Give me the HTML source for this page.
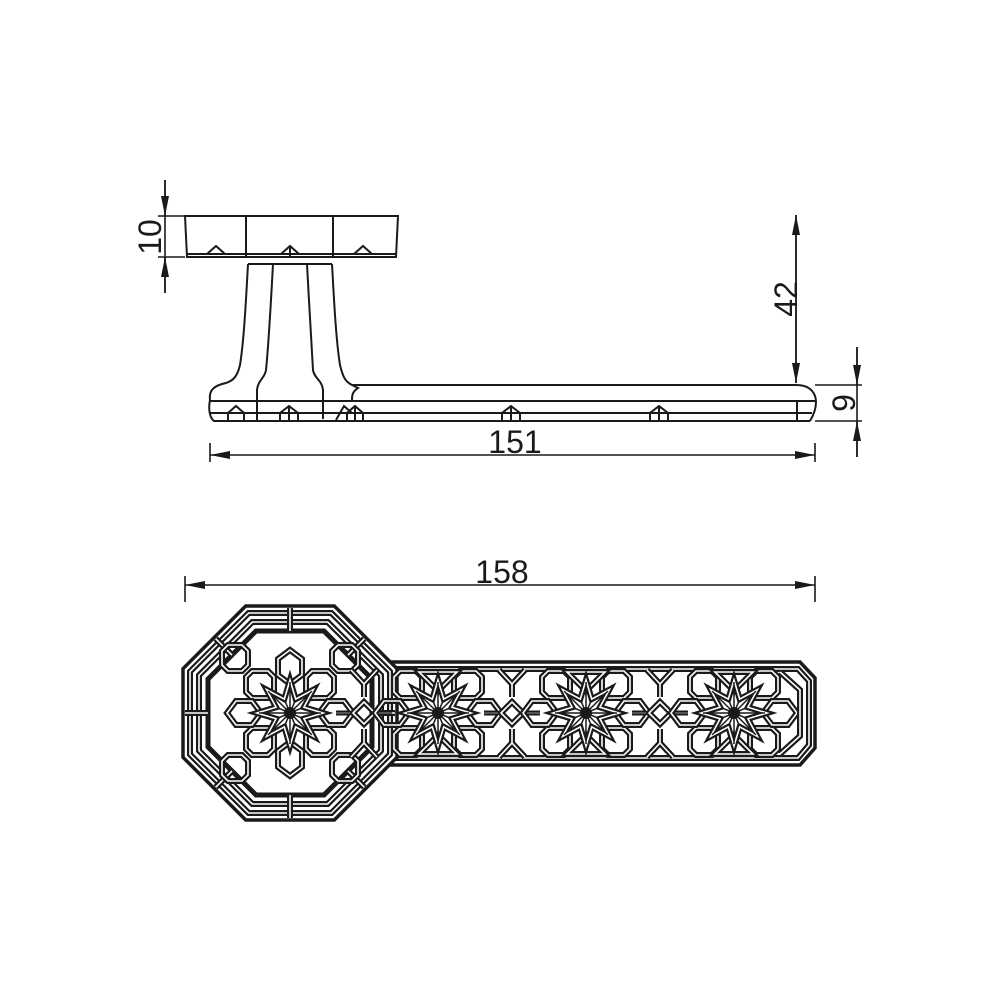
<!DOCTYPE html>
<html><head><meta charset="utf-8"><style>
html,body{margin:0;padding:0;background:#fff}
svg{display:block}
text{font-family:"Liberation Sans",Arial,sans-serif;font-size:32px;fill:#1a1a1a}
</style></head><body>
<svg id="s" width="1000" height="1000" viewBox="0 0 1000 1000" xmlns="http://www.w3.org/2000/svg">
<defs>
<marker id="a" viewBox="0 0 20 8" refX="20" refY="4" markerWidth="20" markerHeight="8" markerUnits="userSpaceOnUse" orient="auto"><path d="M0,0L20,4L0,8z" fill="#1a1a1a"/></marker>
</defs>
<g stroke="#1a1a1a" stroke-width="2" fill="none">
<path d="M185,216H398L396,257H187Z"/>
<path d="M246,216V257M333,216V257M187,254H396"/>
<path d="M207,254L216,246L225,254M281,254L290,246L299,254M354,254L363,246L372,254M290,246V257"/>
<path d="M248,264H332"/>
<path d="M248,264C246,300 244,340 240,365C237,378 232,382 222,384C212,387 209,392 210,400"/>
<path d="M273,264C271,300 269,340 266,370C265,378 258,380 257,390V421"/>
<path d="M307,264C309,300 311,340 313,370C314,378 322,380 323,390V419"/>
<path d="M332,264C334,300 336,340 340,365C343,378 346,382 352,385L358,388C352,392 352,396 352,400"/>
<path d="M352,385H796C812,385 816,395 816,402C816,410 813,416 810,421"/>
<path d="M210,400C208,410 210,418 214,421H810M210,401H815M210,413H812M797,401V421"/>
<path d="M228,420V413L236,406L244,413V420M280,420V413L289,406L298,413V420M289,406V421M336,420L344,406L352,413M347,420V413L355,406L363,413V420M355,406V421M502,420V413L511,406L520,413V420M511,406V421M650,420V413L659,406L668,413V420M659,406V421"/>
</g>
<g stroke="#1a1a1a" stroke-width="1.6" fill="none">
<path d="M165,180V293M158,216H185M158,257H185" />
<path d="M210,443V462M815,443V462M796,215V383M815,385H862M815,421H862M857,347V457M185,576V602M815,576V602"/>
</g>
<g stroke="#1a1a1a" stroke-width="1.6">
<line x1="165" y1="180" x2="165" y2="216" marker-end="url(#a)"/>
<line x1="165" y1="293" x2="165" y2="257" marker-end="url(#a)"/>
<line x1="515" y1="455" x2="210" y2="455" marker-end="url(#a)"/>
<line x1="515" y1="455" x2="815" y2="455" marker-end="url(#a)"/>
<line x1="796" y1="300" x2="796" y2="215" marker-end="url(#a)"/>
<line x1="796" y1="300" x2="796" y2="383" marker-end="url(#a)"/>
<line x1="857" y1="347" x2="857" y2="385" marker-end="url(#a)"/>
<line x1="857" y1="457" x2="857" y2="421" marker-end="url(#a)"/>
<line x1="500" y1="585" x2="185" y2="585" marker-end="url(#a)"/>
<line x1="500" y1="585" x2="815" y2="585" marker-end="url(#a)"/>
</g>
<text x="515" y="453" text-anchor="middle">151</text>
<text x="502" y="583" text-anchor="middle">158</text>
<text transform="translate(161,237) rotate(-90)" text-anchor="middle">10</text>
<text transform="translate(797,299) rotate(-90)" text-anchor="middle">42</text>
<text transform="translate(855,403) rotate(-90)" text-anchor="middle">9</text>
<g id="pat"></g>
</svg>
<script>
var g=document.getElementById('pat'),out='';
function dbl(d,w){w=w||7;out+='<path d="'+d+'" fill="none" stroke="#1a1a1a" stroke-width="'+w+'" stroke-linejoin="miter"/><path d="'+d+'" fill="none" stroke="#fff" stroke-width="'+(w-4.4)+'" stroke-linejoin="miter"/>';}
function oct(cx,cy,a){var r=a/Math.cos(Math.PI/8),p=[];for(var k=0;k<8;k++){var t=Math.PI/8+k*Math.PI/4;p.push((cx+r*Math.cos(t)).toFixed(1)+','+(cy+r*Math.sin(t)).toFixed(1));}return 'M'+p.join('L')+'Z';}
function cell(x,y,w,h,c){return 'M'+(x+c)+','+y+'H'+(x+w-c)+'L'+(x+w)+','+(y+c)+'V'+(y+h-c)+'L'+(x+w-c)+','+(y+h)+'H'+(x+c)+'L'+x+','+(y+h-c)+'V'+(y+c)+'Z';}
var cy=713;
out+='<path d="M330,662H800L815,678V748L800,765H330Z" fill="#fff" stroke="#1a1a1a" stroke-width="3.5"/>';
dbl('M380,669H798L809,681V745L798,758H380',6);
out+='<path d="'+oct(290,cy,107)+'" fill="#fff" stroke="#1a1a1a" stroke-width="3.5"/>';
dbl(oct(290,cy,100),6);
dbl(oct(290,cy,91),6);
out+='<path d="'+oct(290,cy,82)+'" fill="none" stroke="#1a1a1a" stroke-width="5"/>';
for(var k=0;k<8;k++){var t=k*Math.PI/4;dbl('M'+(290+82*Math.cos(t))+','+(cy+82*Math.sin(t))+'L'+(290+105*Math.cos(t))+','+(cy+105*Math.sin(t)),6);}
var stars=[290,438,586,734];
stars.forEach(function(cx,i){
 [[-30,-42],[30,-42],[-30,15],[30,15]].forEach(function(o){dbl(cell(cx+o[0]-14,cy+o[1],28,27,6),6);});
 [-46,46].forEach(function(o){dbl('M'+(cx+o-17)+','+cy+'L'+(cx+o-8)+','+(cy-12)+'H'+(cx+o+8)+'L'+(cx+o+17)+','+cy+'L'+(cx+o+8)+','+(cy+12)+'H'+(cx+o-8)+'Z',6);});
 if(i==0){[-46,46].forEach(function(o){dbl('M'+cx+','+(cy+o-17)+'L'+(cx+12)+','+(cy+o-8)+'V'+(cy+o+8)+'L'+cx+','+(cy+o+17)+'L'+(cx-12)+','+(cy+o+8)+'V'+(cy+o-8)+'Z',6);});
   [[-55,-55],[55,-55],[-55,55],[55,55]].forEach(function(o){dbl(cell(cx+o[0]-13,cy+o[1]-13,26,26,6),6);});}
 else{dbl('M'+(cx-19)+',672L'+cx+',691L'+(cx+19)+',672Z',6);dbl('M'+(cx-19)+',754L'+cx+',735L'+(cx+19)+',754Z',6);}
 var p=[];for(var k=0;k<16;k++){var r=(k%2==0)?33:15,t=k*Math.PI/8-Math.PI/2;p.push((cx+r*Math.cos(t)).toFixed(1)+','+(cy+r*Math.sin(t)).toFixed(1));}
 dbl('M'+p.join('L')+'Z',6);
 var rays='';for(var k=0;k<16;k++){var rr=(k%2==0)?31:14,t=k*Math.PI/8-Math.PI/2;rays+='M'+cx+','+cy+'L'+(cx+rr*Math.cos(t)).toFixed(1)+','+(cy+rr*Math.sin(t)).toFixed(1);}
 out+='<path d="'+rays+'" stroke="#1a1a1a" stroke-width="1.5"/><circle cx="'+cx+'" cy="'+cy+'" r="6" fill="#1a1a1a"/>';
 if(i<3){var dx=cx+74;dbl('M'+dx+','+(cy-11)+'L'+(dx+11)+','+cy+'L'+dx+','+(cy+11)+'L'+(dx-11)+','+cy+'Z',6);
  dbl('M'+(dx-13)+',670L'+dx+',684L'+(dx+13)+',670M'+dx+',684V697M'+(dx-13)+',757L'+dx+',743L'+(dx+13)+',757M'+dx+',743V729',6);
  dbl('M'+(dx-28)+','+cy+'L'+(dx-14)+','+cy+'M'+(dx+14)+','+cy+'L'+(dx+28)+','+cy,5);}
});
dbl('M780,672L800,690V736L780,754',6);
g.innerHTML=out;
</script>
</body></html>
